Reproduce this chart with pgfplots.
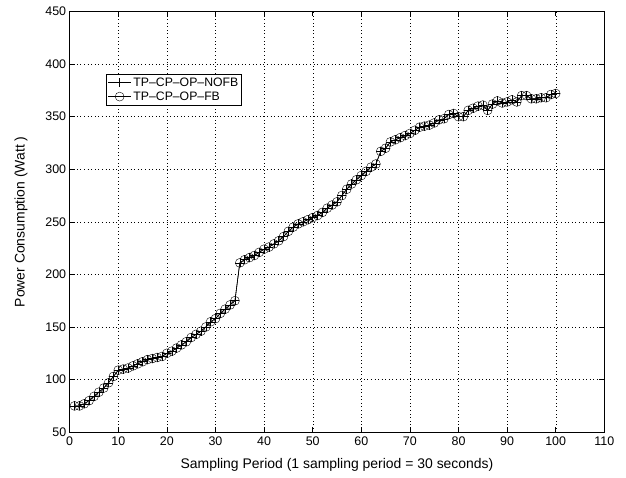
\documentclass[border=0pt]{standalone}
\usepackage{pgfplots}
\pgfplotsset{compat=1.18}
\usepackage{pgfplotstable}
\usepackage{fontspec}
\setmainfont{Liberation Sans}
\pgfplotstableread{
x y
1 75
2 75
3 77
4 80
5 84
6 88
7 92
8 97
9 103
10 109
11 110
12 111
13 113
14 115
15 117
16 119
17 120
18 121
19 122
20 125
21 127
22 130
23 133
24 136
25 140
26 143
27 146
28 150
29 155
30 158
31 163
32 167
33 171
34 175
35 211
36 214
37 216
38 218
39 221
40 224
41 226
42 229
43 232
44 236
45 241
46 245
47 248
48 250
49 252
50 254
51 256
52 259
53 263
54 266
55 269
56 275
57 281
58 286
59 290
60 294
61 298
62 302
63 305
64 317
65 320
66 326
67 328
68 330
69 332
70 334
71 337
72 340
73 341
74 342
75 344
76 347
77 348
78 352
79 353
80 350
81 350
82 356
83 358
84 360
85 361
86 356
87 362
88 365
89 363
90 364
91 366
92 364
93 370
94 370
95 367
96 367
97 368
98 368
99 371
100 372
}\datatable
\begin{document}
\begin{tikzpicture}
\begin{axis}[
  name=ax,
  scale only axis,
  width=534.6bp, height=420.7bp,
  xmin=0, xmax=110, ymin=50, ymax=450,
  xtick={0,10,...,110}, ytick={50,100,...,450},
  tick align=inside,
  tick pos=both,
  major tick length=5bp,
  grid=major,
  major grid style={black, line width=0.4pt, dash pattern=on 0.6pt off 3pt},
  axis line style={black, line width=0.6pt},
  tick style={black, line width=0.5pt},
  font=\fontsize{14}{16}\selectfont,
  /pgf/number format/assume math mode=true,
  xticklabel style={font=\fontsize{12.5}{14}\selectfont, yshift=-1bp},
  yticklabel style={font=\fontsize{12.5}{14}\selectfont},
  xlabel={Sampling Period (1 sampling period = 30 seconds)},
  ylabel={Power Consumption (Watt )},
  xlabel style={yshift=-6bp},
  ylabel style={yshift=11bp},
  legend style={at={(0.068,0.852)}, anchor=north west, draw=black, line width=0.6pt, font=\fontsize{12.3}{13}\selectfont, inner sep=1.5pt, row sep=0pt, cells={anchor=west}},
  legend cell align=left,
  legend image code/.code={\draw[mark repeat=2,mark phase=2,#1] plot coordinates {(0bp,0bp) (11.5bp,0bp) (23bp,0bp)};},
]
\addplot[black, line width=0.6pt, mark=+, mark size=4.5pt, mark options={line width=0.5pt}] table[x=x,y=y] {\datatable};
\addlegendentry{TP--CP--OP--NOFB}
\addplot[black, line width=0.6pt, mark=o, mark size=4.5pt, mark options={line width=0.4pt}] table[x=x,y=y] {\datatable};
\addlegendentry{TP--CP--OP--FB}
\end{axis}
\pgfresetboundingbox
\path ([xshift=-69.7bp,yshift=-45.8bp]ax.south west) rectangle ([xshift=21.7bp,yshift=11.5bp]ax.north east);
\end{tikzpicture}
\end{document}
